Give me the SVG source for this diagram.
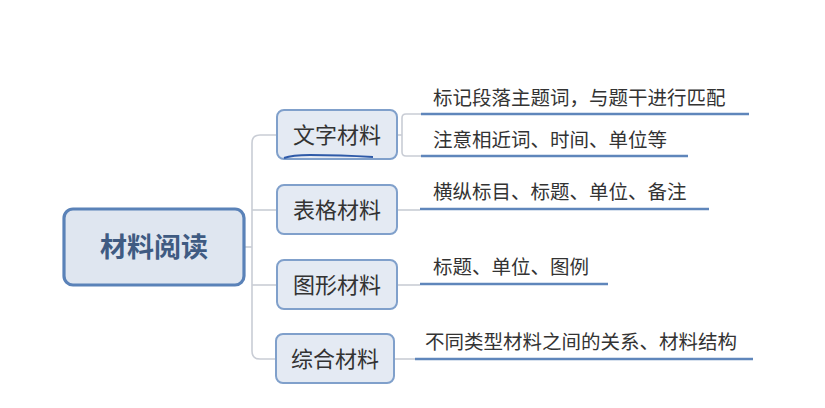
<svg xmlns="http://www.w3.org/2000/svg" width="825" height="408" viewBox="0 0 825 408">
<style>
.conn{fill:none;stroke:#c9cdd5;stroke-width:1.6}
.ul{fill:none;stroke:#5f86bb;stroke-width:2.6}
.root{fill:#dfe6f0;stroke:#5a82b8;stroke-width:3.2}
.child{fill:#e4eaf3;stroke:#80a0cb;stroke-width:2}
.rt{font-family:"Noto Sans CJK SC","Noto Sans",sans-serif;font-size:27px;font-weight:bold;fill:#3f5b82;text-anchor:middle}
.ct{font-family:"Noto Sans CJK SC","Noto Sans",sans-serif;font-size:22px;fill:#333;text-anchor:middle}
.lt{font-family:"Noto Sans CJK SC","Noto Sans",sans-serif;font-size:19.5px;fill:#333}
</style>
<rect width="825" height="408" fill="#fff"/>
<g id="connectors">
<path class="conn" d="M244,247 H252"/>
<path class="conn" d="M277,135 H260 Q252,135 252,143 V351 Q252,359 260,359 H277"/>
<path class="conn" d="M252,210 H277"/>
<path class="conn" d="M252,285 H277"/>
<path class="conn" d="M397,135 H402"/>
<path class="conn" d="M421,114 H406 Q402,114 402,118 V152 Q402,156 406,156 H421"/>
<path class="conn" d="M397,210 H420"/>
<path class="conn" d="M397,285 H420"/>
<path class="conn" d="M394,359 H415"/>
</g>
<g id="root">
<rect class="root" x="64" y="209" width="180" height="76" rx="9"/>
<text class="rt" x="154" y="257">材料阅读</text>
</g>
<g id="n-wenzi">
<rect class="child" x="277" y="110" width="120" height="49" rx="7"/>
<text class="ct" x="337" y="143">文字材料</text>
<path d="M284,158 Q292,155 310,155 Q340,155 373,157" fill="none" stroke="#2e5aa8" stroke-width="2"/>
</g>
<g id="n-biaoge">
<rect class="child" x="277" y="185" width="120" height="49" rx="7"/>
<text class="ct" x="337" y="218">表格材料</text>
</g>
<g id="n-tuxing">
<rect class="child" x="277" y="260" width="120" height="49" rx="7"/>
<text class="ct" x="337" y="293">图形材料</text>
</g>
<g id="n-zonghe">
<rect class="child" x="276" y="334" width="118" height="49" rx="7"/>
<text class="ct" x="335" y="367">综合材料</text>
</g>
<g id="leaf-1">
<text class="lt" x="433" y="105">标记段落主题词，与题干进行匹配</text>
<path class="ul" d="M421,114 H749"/>
</g>
<g id="leaf-2">
<text class="lt" x="433" y="147">注意相近词、时间、单位等</text>
<path class="ul" d="M421,156 H688"/>
</g>
<g id="leaf-3">
<text class="lt" x="433" y="199">横纵标目、标题、单位、备注</text>
<path class="ul" d="M420,209 H709"/>
</g>
<g id="leaf-4">
<text class="lt" x="433" y="274">标题、单位、图例</text>
<path class="ul" d="M420,284 H608"/>
</g>
<g id="leaf-5">
<text class="lt" x="425" y="349">不同类型材料之间的关系、材料结构</text>
<path class="ul" d="M415,359 H753"/>
</g>
</svg>
